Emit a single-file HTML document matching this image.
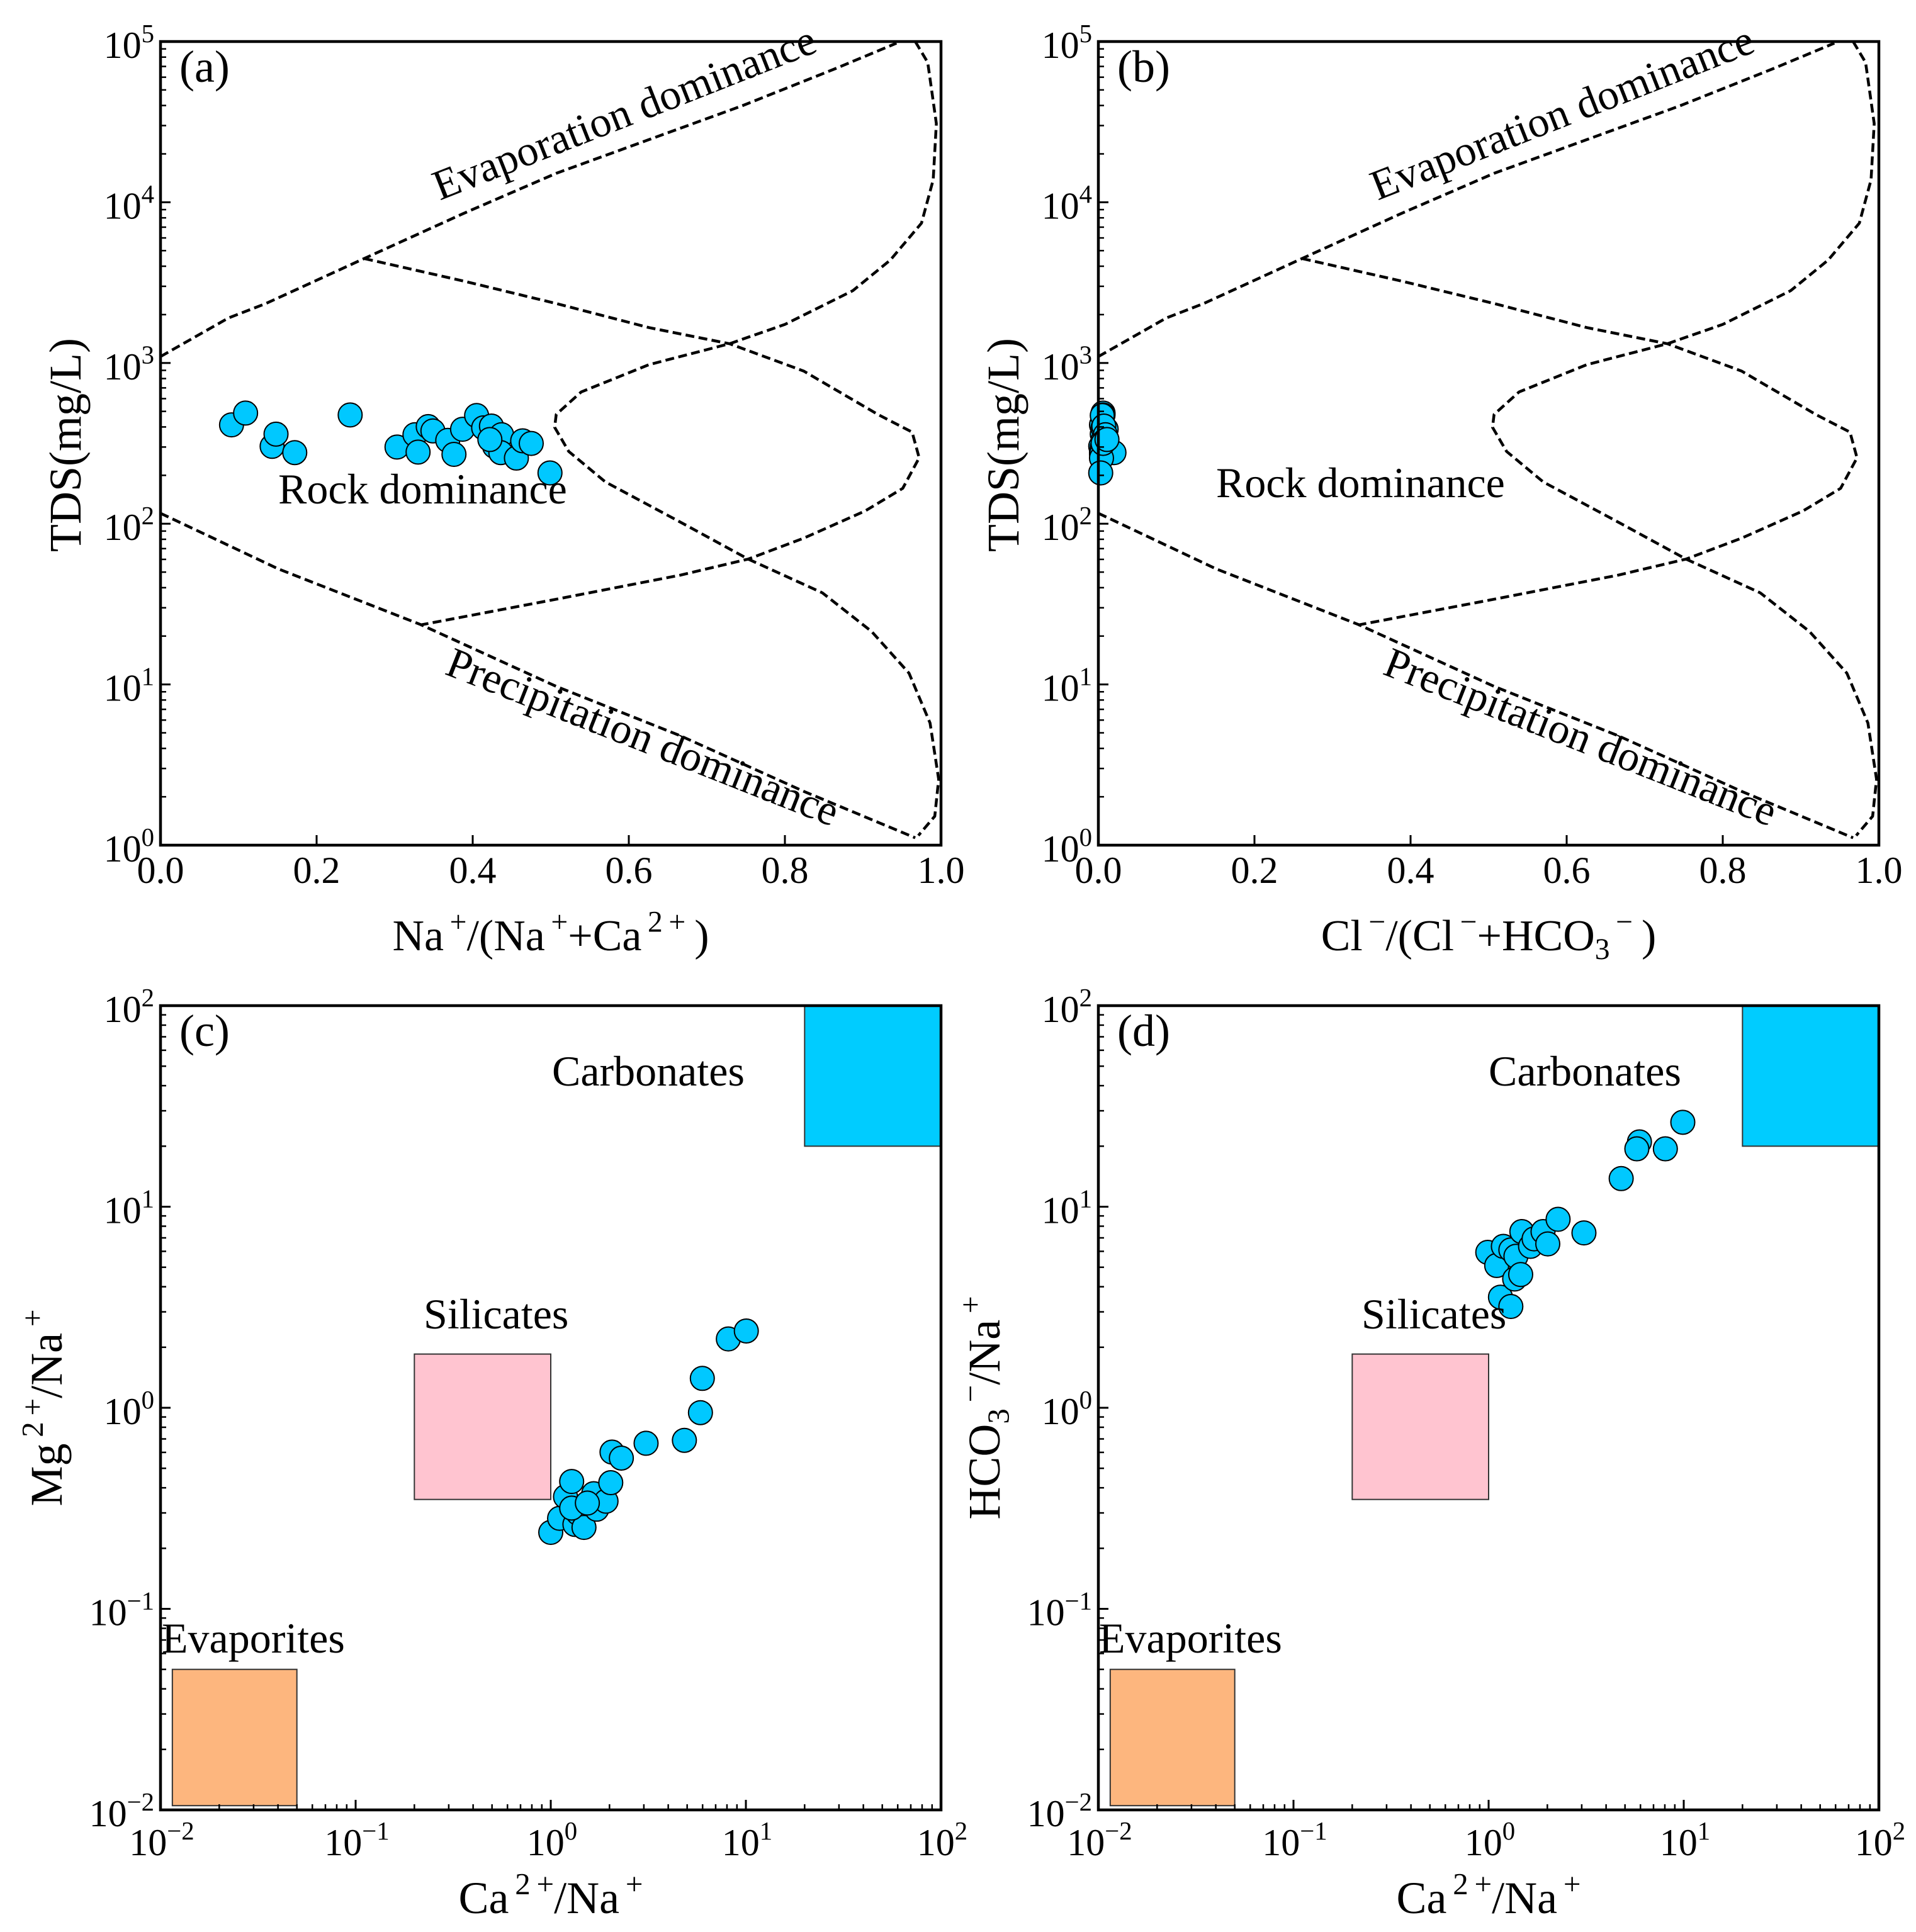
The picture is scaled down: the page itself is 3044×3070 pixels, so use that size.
<!DOCTYPE html>
<html><head><meta charset="utf-8"><style>
html,body{margin:0;padding:0;background:#fff;}
svg{display:block;font-family:"Liberation Serif","DejaVu Serif",serif;}
</style></head><body>
<svg id="fig" xmlns="http://www.w3.org/2000/svg" width="3044" height="3070" viewBox="0 0 3044 3070"></svg>
<script>
// ---------- data ----------
const naRatio = [0.091,0.109,0.143,0.148,0.172,0.243,0.303,0.326,0.330,0.343,0.349,0.368,0.376,0.387,0.405,0.414,0.424,0.428,0.437,0.436,0.456,0.464,0.475,0.499,0.422];
const tdsVals = [412,488,303,361,277,475,300,358,279,402,378,330,270,387,471,395,405,303,358,277,256,328,316,207,334];
const clRatio = [0.004,0.006,0.003,0.005,0.004,0.006,0.005,0.008,0.004,0.007,0.009,0.006,0.004,0.010,0.005,0.006,0.007,0.012,0.009,0.020,0.004,0.008,0.006,0.003,0.011];
const caNaC = [1.0,1.11,1.19,1.28,1.33,1.38,1.48,1.66,1.72,1.92,2.03,2.06,2.30,3.08,4.84,5.85,5.98,8.13,10.05,1.28,1.54];
const mgNa = [0.240,0.282,0.361,0.430,0.263,0.299,0.254,0.374,0.313,0.343,0.424,0.602,0.562,0.666,0.689,0.946,1.40,2.20,2.41,0.317,0.336];
const caNaD = [0.99,1.10,1.15,1.19,1.30,1.30,1.36,1.38,1.46,1.48,1.64,1.71,1.90,2.01,2.27,3.08,4.78,5.93,5.75,8.05,9.89];
const hco3Na = [5.93,5.10,3.55,6.35,3.19,6.10,4.37,5.67,4.60,7.52,6.35,6.92,7.52,6.53,8.66,7.41,13.8,21.0,19.4,19.4,26.3];
// Gibbs boundary template (x ratio, log10 TDS)
const evapX = [0,0.087,0.135,0.261,0.388,0.507,0.626,0.745,0.864,0.943];
const evapLog = [3.04,3.28,3.37,3.65,3.93,4.18,4.39,4.60,4.83,4.99];
const precX = [0,0.151,0.333,0.507,0.666,0.824,0.967];
const precLog = [2.065,1.719,1.373,0.988,0.681,0.335,0.046];
const loopX = [0.967,0.983,0.994,0.990,0.975,0.935,0.887,0.800,0.729,0.626,0.539,0.507,0.505,0.523,0.570,0.666,0.753,0.848,0.911,0.959,0.986,0.997,0.992,0.971];
const loopLog = [5.0,4.87,4.49,4.14,3.87,3.64,3.45,3.24,3.12,2.99,2.82,2.68,2.60,2.45,2.26,2.01,1.78,1.57,1.33,1.07,0.76,0.41,0.18,0.06];
const rockX = [0.261,0.388,0.507,0.626,0.729,0.824,0.919,0.963,0.972,0.951,0.903,0.824,0.753,0.666,0.507,0.333];
const rockLog = [3.65,3.51,3.37,3.22,3.12,2.95,2.68,2.57,2.41,2.22,2.08,1.91,1.78,1.68,1.53,1.37];
const linTicks = [0,0.2,0.4,0.6,0.8,1.0];
const linTickLabels = ['0.0','0.2','0.4','0.6','0.8','1.0'];
const tdsExps = [0,1,2,3,4,5];
const ratioExps = [-2,-1,0,1,2];
// source-rock boxes [x0,x1,y0,y1]
const carbBox = [20,100,20,100];
const silBox = [0.2,1,0.35,1.85];
const evapBox = [0.0115,0.05,0.0105,0.05];

const NS = 'http://www.w3.org/2000/svg';
const svg = document.getElementById('fig');
function mk(tag, attrs, parent){
  const e = document.createElementNS(NS, tag);
  for (const k in attrs) e.setAttribute(k, attrs[k]);
  (parent||svg).appendChild(e);
  return e;
}
function rich(parent, x, y, parts, size, anchor, rot){
  const t = mk('text', {x:x, y:y, 'font-size':size, 'text-anchor':anchor||'start', fill:'#000'}, parent);
  if (rot) t.setAttribute('transform', 'rotate(' + rot[0] + ' ' + rot[1] + ' ' + rot[2] + ')');
  let cur = 0;
  parts.forEach(p => {
    const kind = p[1] || 'n';
    const target = kind === 'sup' ? -0.42*size : kind === 'sub' ? 0.2*size : 0;
    const ts = mk('tspan', {dy: (target - cur)}, t);
    if (kind !== 'n') ts.setAttribute('font-size', size*0.68);
    ts.textContent = p[0];
    cur = target;
  });
  return t;
}

function makePanel(name, ox, oy, w, h, xlog, xmin, xmax, ymin, ymax){
  const g = mk('g', {});
  
  
  const sx = v => xlog ? ox + (Math.log10(v)-xmin)/(xmax-xmin)*w : ox + (v-xmin)/(xmax-xmin)*w;
  const sy = v => oy + h - (Math.log10(v)-ymin)/(ymax-ymin)*h;
  const syl = l => oy + h - (l-ymin)/(ymax-ymin)*h;
  return {g, sx, sy, syl, ox, oy, w, h};
}
function frame(P){
  const r = mk('rect', {x:P.ox, y:P.oy, width:P.w, height:P.h, fill:'none', stroke:'#000', 'stroke-width':4.5}, P.g);
  
  
}
function yLogTicks(P, exps, minors){
  const tg = mk('g', {}, P.g);
  
  
  exps.forEach((e, i) => {
    const y = P.syl(e);
    mk('line', {x1:P.ox, x2:P.ox+16, y1:y, y2:y, stroke:'#000', 'stroke-width':3}, tg);
    if (i < exps.length-1 && minors) for (let m=2; m<=9; m++){
      const ym = P.syl(e + Math.log10(m));
      mk('line', {x1:P.ox, x2:P.ox+9, y1:ym, y2:ym, stroke:'#000', 'stroke-width':2.5}, tg);
    }
    const lbl = rich(tg, P.ox-10, y+26, [['10'],[String(e).replace('-','\u2212'),'sup']], 60, 'end');
    
    
  });
}
function xLinTicks(P){
  const tg = mk('g', {}, P.g);
  
  
  linTicks.forEach((v, i) => {
    const x = P.sx(v);
    mk('line', {x1:x, x2:x, y1:P.oy+P.h, y2:P.oy+P.h-16, stroke:'#000', 'stroke-width':3}, tg);
    const lbl = rich(tg, x, P.oy+P.h+60, [[linTickLabels[i]]], 60, 'middle');
    
    
  });
}
function xLogTicks(P){
  const tg = mk('g', {}, P.g);
  
  
  ratioExps.forEach((e, i) => {
    const x = P.sx(Math.pow(10, e));
    mk('line', {x1:x, x2:x, y1:P.oy+P.h, y2:P.oy+P.h-16, stroke:'#000', 'stroke-width':3}, tg);
    if (i < ratioExps.length-1) for (let m=2; m<=9; m++){
      const xm = P.sx(m*Math.pow(10, e));
      mk('line', {x1:xm, x2:xm, y1:P.oy+P.h, y2:P.oy+P.h-9, stroke:'#000', 'stroke-width':2.5}, tg);
    }
    const lbl = rich(tg, x+2, P.oy+P.h+72, [['10'],[String(e).replace('-','\u2212'),'sup']], 60, 'middle');
    
    
  });
}
function dashed(P, xs, ls, name){
  const d = xs.map((x, i) => (i ? 'L' : 'M') + P.sx(x).toFixed(1) + ' ' + P.syl(ls[i]).toFixed(1)).join(' ');
  const p = mk('path', {d:d, fill:'none', stroke:'#000', 'stroke-width':4.5, 'stroke-dasharray':'14 7', 'stroke-linejoin':'round'}, P.g);
  
  
}
function scatter(P, xs, ys){
  const sg = mk('g', {}, P.g);
  
  
  xs.forEach((x, i) => {
    const c = mk('circle', {cx:P.sx(x), cy:P.sy(ys[i]), r:19, fill:'#00C8FF', stroke:'#000', 'stroke-width':2}, sg);
    
    
  });
}
function box(P, b, fill, name){
  const x0 = P.sx(b[0]), x1 = P.sx(b[1]), y0 = P.sy(b[3]), y1 = P.sy(b[2]);
  const r = mk('rect', {x:x0, y:y0, width:x1-x0, height:y1-y0, fill:fill, stroke:'#333', 'stroke-width':2}, P.g);
  
  
}
function label(P, x, y, parts, size, name, anchor, rot){
  const t = rich(P.g, x, y, parts, size, anchor||'start', rot);
  
  
  return t;
}

// ---------- Gibbs panels ----------
function gibbs(name, ox, xs, ys, letter, xtitle, ytitleX, rockY){
  const P = makePanel(name, ox, 66, 1240, 1277, false, 0, 1, 0, 5);
  dashed(P, evapX, evapLog, 'evaporation-boundary');
  dashed(P, precX, precLog, 'precipitation-boundary');
  dashed(P, loopX, loopLog, 'rock-evaporation-boundary');
  dashed(P, rockX, rockLog, 'rock-precipitation-boundary');
  scatter(P, xs, ys);
  frame(P);
  yLogTicks(P, tdsExps, true);
  xLinTicks(P);
  label(P, ox+30, 130, [[letter]], 72, 'panel-label');
  label(P, ox+745, 200, [['Evaporation dominance']], 68, 'evaporation-dominance-label', 'middle', [-21.5, ox+745, 200]);
  label(P, ox+758, 1192, [['Precipitation dominance']], 68, 'precipitation-dominance-label', 'middle', [21.5, ox+758, 1192]);
  label(P, ox + 187, rockY, [['Rock dominance']], 68, 'rock-dominance-label');
  label(P, ox+620, 1510, xtitle, 70, 'x-axis-title', 'middle');
  label(P, ytitleX, 707, [['TDS(mg/L)']], 72, 'y-axis-title', 'middle', [-90, ytitleX, 707]);
}
gibbs('panel-a', 255, naRatio, tdsVals, '(a)', [['Na'],['\u2009+','sup'],['/(Na'],['\u2009+','sup'],['+Ca'],['\u20092\u2009+','sup'],['\u2009)']], 128, 800);
gibbs('panel-b', 1745, clRatio, tdsVals, '(b)', [['Cl'],['\u2009\u2212','sup'],['/(Cl'],['\u2009\u2212','sup'],['+HCO'],['3','sub'],['\u2009\u2212','sup'],['\u2009)']], 1618, 790);

// ---------- Ratio panels ----------
function ratio(name, ox, xs, ys, letter, ytitle, ytitleX, carbX, silX, evX){
  const P = makePanel(name, ox, 1598, 1240, 1278, true, -2, 2, -2, 2);
  box(P, carbBox, '#00CCFF', 'carbonates-box');
  box(P, silBox, '#FFC4D0', 'silicates-box');
  box(P, evapBox, '#FDB67E', 'evaporites-box');
  scatter(P, xs, ys);
  frame(P);
  yLogTicks(P, ratioExps, true);
  xLogTicks(P);
  label(P, ox+30, 1662, [[letter]], 72, 'panel-label');
  label(P, carbX, 1725, [['Carbonates']], 68, 'carbonates-label');
  label(P, silX, 2111, [['Silicates']], 68, 'silicates-label');
  label(P, evX, 2626, [['Evaporites']], 68, 'evaporites-label');
  label(P, ox+620, 3040, [['Ca'],['\u20092\u2009+','sup'],['/Na'],['\u2009+','sup']], 72, 'x-axis-title', 'middle');
  label(P, ytitleX, 2237, ytitle, 72, 'y-axis-title', 'middle', [-90, ytitleX, 2237]);
}
ratio('panel-c', 255, caNaC, mgNa, '(c)', [['Mg'],['\u20092\u2009+','sup'],['/Na'],['\u2009+','sup']], 98, 877, 673, 257);
ratio('panel-d', 1745, caNaD, hco3Na, '(d)', [['HCO'],['3','sub'],['\u2009\u2212','sup'],['/Na'],['\u2009+','sup']], 1588, 2365, 2163, 1746);
</script>
</body></html>
